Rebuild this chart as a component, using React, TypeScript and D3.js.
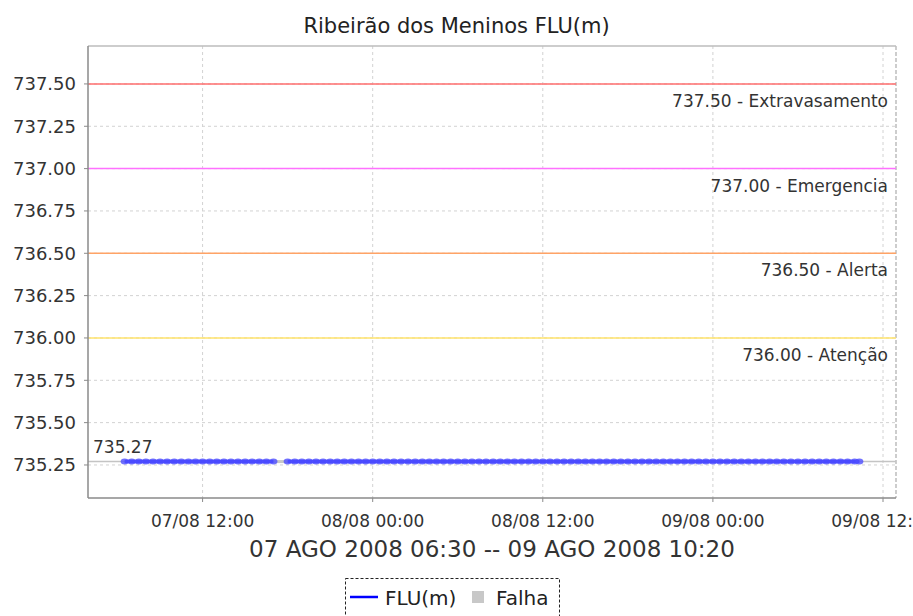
import React, { useEffect } from "react";
import * as d3 from "d3";

// --- data ---
const TITLE = "Ribeirão dos Meninos FLU(m)";
const RANGE_LABEL = "07 AGO 2008 06:30 -- 09 AGO 2008 10:20";

const yTicks = [735.25, 735.5, 735.75, 736.0, 736.25, 736.5, 736.75, 737.0, 737.25, 737.5];
const xTicks = ["2008-08-07T12:00", "2008-08-08T00:00", "2008-08-08T12:00", "2008-08-09T00:00", "2008-08-09T12:00"];

const thresholdNames = ["Extravasamento", "Emergencia", "Alerta", "Atenção"];
const thresholdValues = [737.5, 737.0, 736.5, 736.0];
const thresholdColors = ["#ff6e6e", "#ff70ff", "#ffa366", "#ffe36b"];

const lastValue = 735.27;

// readings every 30 min, first run 07/08 06:30 -> 17:00
const run1Start = "2008-08-07T06:30";
const run1Values = [
  735.27, 735.27, 735.27, 735.27, 735.27, 735.27, 735.27, 735.27, 735.27, 735.27, 735.27,
  735.27, 735.27, 735.27, 735.27, 735.27, 735.27, 735.27, 735.27, 735.27, 735.27, 735.27,
];
// second run 07/08 18:00 -> 09/08 10:00, then the last reading at 10:20
const run2Start = "2008-08-07T18:00";
const run2Values = [
  735.27, 735.27, 735.27, 735.27, 735.27, 735.27, 735.27, 735.27, 735.27, 735.27,
  735.27, 735.27, 735.27, 735.27, 735.27, 735.27, 735.27, 735.27, 735.27, 735.27,
  735.27, 735.27, 735.27, 735.27, 735.27, 735.27, 735.27, 735.27, 735.27, 735.27,
  735.27, 735.27, 735.27, 735.27, 735.27, 735.27, 735.27, 735.27, 735.27, 735.27,
  735.27, 735.27, 735.27, 735.27, 735.27, 735.27, 735.27, 735.27, 735.27, 735.27,
  735.27, 735.27, 735.27, 735.27, 735.27, 735.27, 735.27, 735.27, 735.27, 735.27,
  735.27, 735.27, 735.27, 735.27, 735.27, 735.27, 735.27, 735.27, 735.27, 735.27,
  735.27, 735.27, 735.27, 735.27, 735.27, 735.27, 735.27, 735.27, 735.27, 735.27,
  735.27,
];
const lastReading = { t: "2008-08-09T10:20", v: 735.27 };
// failure (Falha) gap
const failStart = "2008-08-07T17:00";
const failEnd = "2008-08-07T18:00";

const xDomain = ["2008-08-07T03:55", "2008-08-09T12:55"];
const yDomain = [735.055, 737.724];

const parse = d3.timeParse("%Y-%m-%dT%H:%M");
const fmtTick = d3.timeFormat("%d/%m %H:%M");

type Pt = { t: Date; v: number };
const toRun = (start: string, vals: number[]): Pt[] =>
  vals.map((v, i) => ({ t: d3.timeMinute.offset(parse(start)!, 30 * i), v }));

const W = 913, H = 616;
const m = { l: 88, r: 896, t: 46, b: 498 };
const FONT = "'DejaVu Sans', Verdana, sans-serif";

export default function App() {
  useEffect(() => {
    document.body.style.margin = "0";
  }, []);

  const x = d3.scaleTime().domain(xDomain.map((s) => parse(s)!)).range([m.l, m.r]);
  const y = d3.scaleLinear().domain(yDomain).range([m.b, m.t]);

  const run1 = toRun(run1Start, run1Values);
  const run2 = [...toRun(run2Start, run2Values), { t: parse(lastReading.t)!, v: lastReading.v }];

  const line = d3.line<Pt>().x((d) => x(d.t)).y((d) => y(d.v));
  const failLine = line([
    { t: parse(failStart)!, v: lastValue },
    { t: parse(failEnd)!, v: lastValue },
  ]);

  return (
    <svg width={W} height={H} style={{ display: "block", background: "#fff" }} fontFamily={FONT}>
      <text x={W / 2} y={33} textAnchor="middle" fontSize={21} fill="#222">{TITLE}</text>

      {/* grid */}
      {yTicks.map((v) => (
        <line key={"gy" + v} x1={m.l} x2={m.r} y1={y(v)} y2={y(v)} stroke="#d2d2d2" strokeDasharray="3 3" />
      ))}
      {xTicks.map((s) => (
        <line key={"gx" + s} x1={x(parse(s)!)} x2={x(parse(s)!)} y1={m.t} y2={m.b} stroke="#d2d2d2" strokeDasharray="3 3" />
      ))}

      {/* plot outline */}
      <line x1={m.l} x2={m.r} y1={m.t} y2={m.t} stroke="#bdbdbd" strokeWidth={1.5} />
      <line x1={m.r} x2={m.r} y1={m.t} y2={m.b} stroke="#bdbdbd" strokeWidth={1.5} strokeDasharray="4 2" />

      {/* thresholds */}
      {thresholdValues.map((v, i) => (
        <g key={"th" + i}>
          <line x1={m.l} x2={m.r} y1={y(v)} y2={y(v)} stroke={thresholdColors[i]} strokeWidth={1.5} />
          <text x={m.r - 8} y={y(v) + 23} textAnchor="end" fontSize={17} fill="#333">
            {d3.format(".2f")(v) + " - " + thresholdNames[i]}
          </text>
        </g>
      ))}

      {/* last value marker */}
      <line x1={m.l} x2={m.r} y1={y(lastValue)} y2={y(lastValue)} stroke="#c4c4c4" strokeWidth={1.5} />
      <text x={m.l + 5} y={y(lastValue) - 9} fontSize={17} fill="#333">{d3.format(".2f")(lastValue)}</text>

      {/* series */}
      <path d={failLine ?? ""} fill="none" stroke="#c8c8c8" strokeWidth={3} />
      {[run1, run2].map((run, k) => (
        <g key={"run" + k}>
          <path d={line(run) ?? ""} fill="none" stroke="#3b3bff" strokeWidth={3.5} />
          {run.map((d, i) => (
            <ellipse key={i} cx={x(d.t)} cy={y(d.v)} rx={4} ry={3} fill="#4f4fff" fillOpacity={0.8} />
          ))}
        </g>
      ))}

      {/* axes */}
      <line x1={m.l} x2={m.l} y1={m.t} y2={m.b} stroke="#8a8a8a" strokeWidth={1.5} />
      <line x1={m.l} x2={m.r} y1={m.b} y2={m.b} stroke="#8a8a8a" strokeWidth={1.5} />
      {yTicks.map((v) => (
        <g key={"ty" + v}>
          <line x1={m.l - 4} x2={m.l} y1={y(v)} y2={y(v)} stroke="#8a8a8a" />
          <text x={m.l - 12} y={y(v)} dy="0.36em" textAnchor="end" fontSize={18} fill="#333">
            {d3.format(".2f")(v)}
          </text>
        </g>
      ))}
      {xTicks.map((s) => (
        <g key={"tx" + s}>
          <line x1={x(parse(s)!)} x2={x(parse(s)!)} y1={m.b} y2={m.b + 4} stroke="#8a8a8a" />
          <text x={x(parse(s)!)} y={m.b + 29} textAnchor="middle" fontSize={17} fill="#333">
            {fmtTick(parse(s)!)}
          </text>
        </g>
      ))}
      <text x={(m.l + m.r) / 2} y={557} textAnchor="middle" fontSize={23} fill="#333">{RANGE_LABEL}</text>

      {/* legend */}
      <rect x={345.5} y={578.5} width={214} height={44} fill="#fff" stroke="#222" strokeDasharray="3 2" />
      <line x1={350} x2={378} y1={597} y2={597} stroke="#0000ff" strokeWidth={2.5} />
      <text x={385} y={605} fontSize={20} fill="#222">FLU(m)</text>
      <rect x={472} y={591} width={12} height={12} fill="#c8c8c8" />
      <text x={496} y={605} fontSize={20} fill="#222">Falha</text>
    </svg>
  );
}
